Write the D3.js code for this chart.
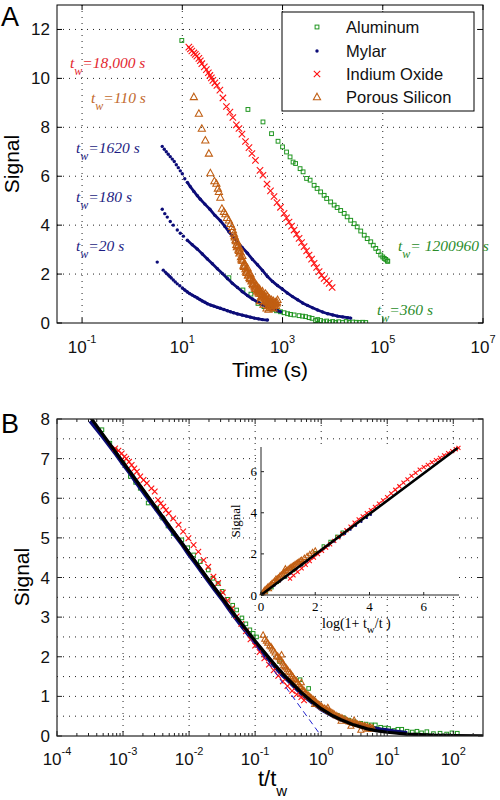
<!DOCTYPE html>
<html><head><meta charset="utf-8">
<script src="https://cdn.jsdelivr.net/npm/d3@7"></script>
<style>body{margin:0;background:#fff}svg{display:block}</style>
</head><body><svg id="c" width="500" height="800"></svg>
<script>
// ---------------- DATA : panel A (time in s, signal) ----------------
const mylar1620T = [3.98,4.37,4.79,5.25,5.75,6.31,6.92,7.59,8.32,9.12,10,11.2,12.6,14.5,17.0,20.0,22.9,28.2,35.5,44.7,57.5,70.8,85.1,105,126,158,200,251,316,398,501,631,794,1000,1259,1585,1995,2512,3162,3981,5012,6310,7943,10000,12589,15849,19953,22909];
const mylar1620S = [7.22,7.1,7.0,6.9,6.8,6.7,6.6,6.47,6.35,6.22,6.1,5.9,5.75,5.57,5.38,5.2,5.06,4.86,4.65,4.4,4.18,3.95,3.73,3.5,3.31,3.08,2.85,2.6,2.38,2.15,1.9,1.7,1.53,1.38,1.22,1.08,0.95,0.82,0.72,0.62,0.53,0.45,0.38,0.33,0.28,0.25,0.22,0.2];
const mylar180T = [3.98,4.47,5.01,5.75,6.61,7.94,9.12,10.5,12.6,15.8,20,25.1,31.6,39.8,50.1,63.1,79.4,100,126,158,200,251,316,398,501,631,794,912];
const mylar180S = [4.65,4.47,4.33,4.15,4.0,3.8,3.67,3.55,3.38,3.2,3.02,2.82,2.62,2.42,2.22,2.02,1.82,1.62,1.45,1.28,1.12,0.98,0.86,0.75,0.66,0.58,0.5,0.46];
const mylar20T = [3.16,4.17,4.57,4.9,5.25,5.62,6.03,6.61,7.24,7.94,8.91,10,11.2,12.6,14.1,15.8,17.8,20,22.4,25.1,28.2,31.6,37.2,42.7,50.1,57.5,67.6,79.4,91.2,105,126,158,191,229,275,331,398,501];
const mylar20S = [2.49,2.16,2.08,2.02,1.96,1.9,1.84,1.76,1.68,1.6,1.52,1.43,1.35,1.27,1.2,1.14,1.08,1.02,0.96,0.9,0.85,0.79,0.73,0.69,0.64,0.6,0.55,0.5,0.46,0.42,0.37,0.32,0.28,0.24,0.2,0.17,0.14,0.12];
const indiumT = [13.5,14.5,15.5,17.0,18.2,19.5,21.4,22.9,24.5,27.5,30.2,33.1,35.5,38.0,40.7,44.7,49.0,56.2,64.6,75.9,89.1,102,120,135,155,182,214,245,288,355,407,490,575,676,776,912,1072,1202,1349,1514,1698,1905,2138,2399,2692,3020,3388,3802,4266,4786,5370,6026,6761,7586,8511,9772];
const indiumS = [11.28,11.2,11.12,11.04,10.98,10.91,10.82,10.72,10.6,10.47,10.36,10.23,10.12,10.02,9.92,9.82,9.71,9.52,9.2,8.85,8.62,8.4,8.1,7.95,7.72,7.42,7.17,6.93,6.65,6.24,6.04,5.68,5.4,5.17,4.92,4.73,4.48,4.3,4.13,3.96,3.8,3.63,3.46,3.29,3.12,2.95,2.78,2.61,2.44,2.27,2.1,1.95,1.82,1.72,1.62,1.45];
const aluminumHighT = [9.77,204,407,603,813,1000,1202,1413,1622,1820,2239,2570,3020,3548,4266,4898,5754,6761,7586,9120,10715,12303,14454,16982,19498,22909,26915,30903,36308,42658,48978,57544,64565,72444,81283,91201,100000,107152,114815,123027,125893];
const aluminumHighS = [11.55,8.73,8.22,7.74,7.43,7.2,6.99,6.79,6.58,6.52,6.31,6.18,5.91,5.84,5.63,5.5,5.36,5.22,5.09,4.95,4.82,4.72,4.6,4.48,4.34,4.2,4.06,3.93,3.76,3.59,3.45,3.32,3.18,3.05,2.92,2.78,2.7,2.64,2.6,2.54,2.52];
const aluminumLowT = [85,162,234,324,427,525,617,759,912,1072,1259,1445,1698,2138,2512,2884,3388,3890,4571,5012,5754,6607,7586,8710,10000,11482,13183,15849,18621,21380,25119,29512,33884,39811,45709];
const aluminumLowS = [1.85,1.35,1.18,0.8,0.67,0.6,0.56,0.5,0.46,0.42,0.38,0.35,0.33,0.3,0.28,0.26,0.22,0.19,0.1,0.14,0.1,0.05,0.08,0.03,0.06,0.02,0.05,0.02,0.06,0.02,0.04,0.03,0.02,0.03,0.02];
const porousT = [17.0,21.4,24.5,28.8,33.9,36.3,43.7,47.9,51.3,53.7,57.5,61.7,67.6,72.4,77.6,85.1,91.2,97.7,102,107,112,115,120,126,132,138,141,148,155,158,166,174,182,191,200,209,219,229,240,251,263,275,288,302,316,331,347,363,380,398,417,437,457,479,501,525,550,575,603,631,661,692,724,759,794,479,417,355,525,
  110,118,123,129,135,145,151,162,170,178,186,195,204,214,224,234,245,257,269,282,295,309,324,339,355,372,389,407,427,447,468,490,513,537,562,589,617,646,676,708,741,776,660,600,560];
const porousS = [9.24,8.56,7.95,7.47,6.93,6.13,5.8,5.7,5.5,5.36,5.13,4.68,4.55,4.45,4.3,4.2,4.05,3.93,3.8,3.66,3.5,3.39,3.2,3.3,3.0,2.85,3.05,2.7,2.55,2.75,2.35,2.45,2.2,2.05,2.25,1.95,1.85,2.0,1.7,1.6,1.75,1.5,1.4,1.55,1.35,1.25,1.4,1.2,1.1,1.3,1.15,1.0,1.2,0.95,1.1,0.85,1.0,0.8,0.95,0.75,0.9,0.7,0.85,0.8,0.95,0.6,0.75,0.9,0.55,
  3.55,3.35,3.1,3.15,2.95,2.9,2.6,2.55,2.3,2.35,2.1,2.15,1.95,2.05,1.8,1.85,1.75,1.55,1.65,1.45,1.5,1.3,1.45,1.2,1.3,1.05,1.2,1.05,1.1,0.9,1.05,0.85,0.95,0.7,0.9,0.7,0.85,0.8,0.75,0.8,0.7,0.85,0.6,0.62,0.65];

const aXDomain = [0.0316, 1e7];
const aYDomain = [0, 13];
const aXTicks = [0.1, 10, 1000, 1e5, 1e7];
const aXTickExp = ["-1", "1", "3", "5", "7"];
const aYTicks = [0, 2, 4, 6, 8, 10, 12];

const legendNames = ["Aluminum", "Mylar", "Indium Oxide", "Porous Silicon"];
const annotations = [
  {text: "=18,000 s", color: "#e3262e"},
  {text: "=110 s", color: "#c2692c"},
  {text: "=1620 s", color: "#1c1c82"},
  {text: "=180 s", color: "#1c1c82"},
  {text: "=20 s", color: "#1c1c82"},
  {text: "= 1200960 s", color: "#2a8c2a"},
  {text: "=360 s", color: "#2a8c2a"}
];

// ---------------- DATA : panel B (t/tw, signal) ----------------
const bModelX = [3.16e-4,5e-4,1e-3,2e-3,5e-3,0.01,0.02,0.05,0.1,0.2,0.3,0.5,0.7,1,1.5,2,3,5,7,10,20,50,100,282];
const bModelS = [8.06,7.6,6.91,6.22,5.3,4.62,3.93,3.04,2.4,1.79,1.47,1.1,0.89,0.69,0.51,0.41,0.29,0.18,0.13,0.095,0.049,0.02,0.01,0.0035];
const bFitX = [1e-4, 1];
const bFitS = [9.21, 0];
const bIndiumX = [7.59e-4,8.51e-4,9.55e-4,1.05e-3,1.12e-3,1.23e-3,1.35e-3,1.48e-3,1.62e-3,1.82e-3,2.04e-3,2.29e-3,2.69e-3,3.02e-3,3.39e-3,3.72e-3,4.07e-3,4.47e-3,4.9e-3,5.75e-3,6.92e-3,8.13e-3,9.77e-3,0.0117,0.0138,0.0166,0.0195,0.0234,0.0275,0.0324,0.038,0.0447,0.0525,0.0617,0.0724,0.0851,0.1,0.117,0.138,0.162,0.191,0.224,0.263,0.309,0.363,0.427,0.501,0.55];
const bIndiumS = [7.26,7.2,7.13,7.05,7.0,6.92,6.84,6.75,6.67,6.55,6.46,6.38,6.25,6.17,5.96,5.87,5.79,5.7,5.62,5.49,5.33,5.16,4.99,4.82,4.65,4.44,4.27,4.02,3.86,3.62,3.42,3.22,3.02,2.83,2.64,2.44,2.28,2.12,1.96,1.8,1.66,1.52,1.38,1.26,1.14,1.05,0.98,0.9];
const bMylarX = [3.2e-4,4e-4,5e-4,6.3e-4,8e-4,1e-3,1.3e-3,1.6e-3,2e-3,2.5e-3,3.2e-3,4e-3,5e-3,6.3e-3,8e-3,0.01,0.013,0.016,0.02,0.025,0.032,0.04,0.05,0.063,0.08,0.1,0.13,0.16,0.2,0.25,0.32,0.4,0.5,0.63,0.8,1.0,1.3,1.6,2,2.5,3.2,4,5,6.3,8,10,13,16,20];
const bMylarS = [7.95,7.75,7.55,7.33,7.1,6.87,6.62,6.4,6.18,5.96,5.72,5.5,5.27,5.05,4.82,4.58,4.33,4.12,3.9,3.68,3.45,3.22,3.0,2.78,2.56,2.36,2.13,1.95,1.76,1.57,1.4,1.24,1.08,0.94,0.8,0.68,0.57,0.49,0.42,0.36,0.3,0.26,0.22,0.19,0.16,0.14,0.11,0.09,0.07];
const bAluminumX = [4.79e-4,6.31e-4,7.59e-4,1e-3,1.29e-3,1.55e-3,1.82e-3,2.4e-3,3.24e-3,3.98e-3,4.79e-3,5.75e-3,7.76e-3,9.55e-3,0.0117,0.0148,0.0195,0.0229,0.0275,0.0316,0.0389,0.0457,0.0525,0.0631,0.0724,0.0832,0.0933,0.105,0.234,0.479,0.646,0.871,1.15,1.41,1.74,2.14,2.63,3.16,3.98,4.79,5.75,6.61,7.94,9.12,10.5,12.6,14.5,16.6,20,24,28.2,33.1,39.8,50.1,63.1,79.4,95.5,115];
const bAluminumS = [7.73,7.39,7.22,6.9,6.55,6.4,6.25,5.88,5.75,5.5,5.3,5.11,4.95,4.75,4.57,4.4,4.19,3.98,3.85,3.65,3.45,3.3,3.18,2.98,2.83,2.68,2.59,2.5,1.88,1.42,1.2,0.82,0.66,0.58,0.52,0.46,0.4,0.36,0.32,0.3,0.28,0.28,0.22,0.2,0.19,0.14,0.17,0.17,0.12,0.1,0.12,0.08,0.11,0.06,0.07,0.05,0.08,0.07];
const bPorousX = [0.132,0.148,0.166,0.182,0.2,0.219,0.24,0.263,0.282,0.309,0.339,0.372,0.398,0.437,0.479,0.525,0.575,0.631,0.692,0.759,0.832,0.912,1,1.12,1.26,1.41,1.58,1.78,2.0,2.24,2.51,2.82,3.16,3.55,3.98,4.47,5.01,5.62,6.03,0.251,0.355,0.501,0.794,1.26,2.0,3.16,3.98,5.01,2.82,
  0.14,0.155,0.175,0.19,0.21,0.23,0.25,0.27,0.295,0.32,0.355,0.385,0.42,0.46,0.5,0.55,0.6,0.66,0.72,0.8,0.87,0.95,1.05,1.18,1.33,1.5,1.68,1.9,2.1,2.4,2.65,3.0,3.35,3.75,4.2,4.7,5.3,5.8];
const bPorousS = [2.55,2.4,2.28,2.2,2.1,2.02,1.93,1.85,1.75,1.68,1.6,1.5,1.43,1.35,1.25,1.18,1.1,1.04,0.98,0.92,0.86,0.8,0.76,0.7,0.65,0.6,0.55,0.5,0.46,0.42,0.38,0.35,0.32,0.3,0.28,0.26,0.24,0.22,0.2,2.05,1.45,1.35,0.8,0.72,0.38,0.4,0.15,0.18,0.25,
  2.45,2.35,2.25,2.15,2.0,1.98,1.9,1.78,1.72,1.62,1.55,1.45,1.4,1.3,1.22,1.15,1.05,1.0,0.95,0.9,0.82,0.78,0.72,0.68,0.62,0.58,0.52,0.48,0.45,0.4,0.36,0.33,0.31,0.29,0.26,0.24,0.2,0.18];
const bXDomain = [1e-4, 282];
const bYDomain = [0, 8];
const bXExp = ["-4","-3","-2","-1","0","1","2"];
const bYTicks = [0,1,2,3,4,5,6,7,8];

// ---------------- DATA : inset (log(1+tw/t), signal) ----------------
const iModelU = [0, 7.25];
const iModelS = [0, 7.15];
const iIndiumU = [1.07,1.2,1.35,1.5,1.65,1.8,1.95,2.1,2.25,2.4,2.55,2.7,2.85,3.0,3.15,3.3,3.45,3.6,3.75,3.9,4.05,4.2,4.35,4.5,4.65,4.8,4.95,5.1,5.25,5.4,5.55,5.7,5.85,6.0,6.15,6.3,6.45,6.6,6.75,6.9,7.05,7.18,7.28];
const iIndiumS = [0.8,0.95,1.12,1.3,1.47,1.65,1.82,1.99,2.15,2.3,2.46,2.63,2.8,2.98,3.15,3.33,3.52,3.68,3.83,3.98,4.13,4.29,4.45,4.6,4.76,4.94,5.12,5.29,5.47,5.63,5.79,5.94,6.1,6.22,6.33,6.45,6.56,6.67,6.79,6.9,7.0,7.09,7.16];
const iPorousU = [0.05,0.1,0.15,0.2,0.25,0.3,0.35,0.4,0.45,0.5,0.6,0.7,0.8,0.9,1.0,1.1,1.2,1.3,1.4,1.5,1.6,1.7,1.8,1.9,2.0,0.3,0.6,0.9,1.2,0.15,1.55,0.55,0.65,0.75,0.85,0.95,1.05,1.15,1.25,1.35,1.45];
const iPorousS = [0.1,0.2,0.28,0.33,0.4,0.45,0.52,0.58,0.64,0.7,0.82,0.95,1.06,1.16,1.27,1.36,1.45,1.55,1.63,1.72,1.82,1.9,2.0,2.1,2.17,0.3,0.7,1.3,1.3,0.15,1.62,0.8,0.86,1.0,1.12,1.2,1.32,1.42,1.5,1.58,1.68];
const iMylarU = [0.1,0.3,0.5,0.7,0.9,1.1,1.3,1.5,1.7,1.9,2.1,2.3,2.5,2.7,2.9,3.1,3.3,3.5,3.7,3.9,4.05];
const iMylarS = [0.08,0.27,0.46,0.66,0.86,1.05,1.24,1.44,1.63,1.83,2.02,2.22,2.41,2.6,2.8,2.98,3.18,3.37,3.56,3.75,3.9];
const iAluminumU = [0.05,0.2,0.4,0.6,0.9,1.2,1.5,2.0,2.3,2.55,2.8,3.0];
const iAluminumS = [0.07,0.18,0.36,0.62,0.88,1.2,1.48,2.05,2.38,2.6,2.85,3.05];
const iXDomain = [0, 7.3];
const iYDomain = [0, 7.2];
const iTicks = [0, 2, 4, 6];

// ---------------- RENDER ----------------
const FONT = "'Liberation Sans', Arial, Helvetica, sans-serif";
const SERIF = "'Liberation Serif', 'Times New Roman', serif";
const C = {al: "#1f951f", my: "#0c0c78", in: "#ff1010", ps: "#c05e12"};
const svg = d3.select("#c");
const zip = (a, b) => a.map((v, i) => [v, b[i]]);

function markers(g, data, kind, xs, ys, s) {
  const sel = g.append("g");
  data.forEach(([a, b]) => {
    const x = xs(a), y = ys(b);
    if (kind === "sq") sel.append("rect").attr("x", x - s/2).attr("y", y - s/2).attr("width", s).attr("height", s)
      .attr("fill", "none").attr("stroke", C.al).attr("stroke-width", 1);
    else if (kind === "dot") sel.append("circle").attr("cx", x).attr("cy", y).attr("r", s).attr("fill", C.my);
    else if (kind === "x") sel.append("path").attr("d", `M${x-s},${y-s}L${x+s},${y+s}M${x-s},${y+s}L${x+s},${y-s}`)
      .attr("stroke", C.in).attr("stroke-width", 1.1).attr("fill", "none");
    else if (kind === "tri") sel.append("path").attr("d", `M${x},${y-s}L${x+s*0.95},${y+s*0.7}L${x-s*0.95},${y+s*0.7}Z`)
      .attr("stroke", C.ps).attr("stroke-width", 1.05).attr("fill", "none");
  });
}
function lineOf(g, data, xs, ys, color, w, dash) {
  const p = g.append("path").datum(data).attr("fill", "none").attr("stroke", color).attr("stroke-width", w)
    .attr("stroke-linejoin", "round").attr("d", d3.line().x(d => xs(d[0])).y(d => ys(d[1])));
  if (dash) p.attr("stroke-dasharray", dash);
  return p;
}
function powLabel(g, x, y, exp, size, esize, up) {
  const t = g.append("text").attr("x", x).attr("y", y).attr("text-anchor", "middle")
    .attr("font-family", FONT).attr("font-size", size).attr("fill", "#111");
  t.append("tspan").text("10");
  t.append("tspan").attr("dy", -up).attr("font-size", esize).text(exp);
}

// ===== Panel A =====
const A = {l: 57, r: 483, t: 5, b: 323};
const xA = d3.scaleLog().domain(aXDomain).range([A.l, A.r]);
const yA = d3.scaleLinear().domain(aYDomain).range([A.b, A.t]);
const gA = svg.append("g");
svg.append("clipPath").attr("id", "clipA").append("rect").attr("x", A.l).attr("y", A.t).attr("width", A.r - A.l).attr("height", A.b - A.t);

aXTicks.slice(0, -1).forEach(v => gA.append("line").attr("x1", xA(v)).attr("x2", xA(v)).attr("y1", A.t).attr("y2", A.b)
  .attr("stroke", "#222").attr("stroke-width", 1).attr("stroke-dasharray", "1,5"));
aYTicks.slice(1).forEach(v => gA.append("line").attr("x1", A.l).attr("x2", A.r).attr("y1", yA(v)).attr("y2", yA(v))
  .attr("stroke", "#222").attr("stroke-width", 1).attr("stroke-dasharray", "1,5"));

const dA = gA.append("g").attr("clip-path", "url(#clipA)");
markers(dA, zip(aluminumHighT, aluminumHighS), "sq", xA, yA, 3.8);
markers(dA, zip(aluminumLowT, aluminumLowS), "sq", xA, yA, 3.8);
[[mylar1620T, mylar1620S], [mylar180T, mylar180S], [mylar20T, mylar20S]].forEach(([T, S]) => {
  const d = zip(T, S);
  lineOf(dA, d.filter(p => p[0] >= T[0] * 3), xA, yA, C.my, 2.8);
  markers(dA, d, "dot", xA, yA, 1.7);
});
markers(dA, zip(indiumT, indiumS), "x", xA, yA, 3.2);
markers(dA, zip(porousT, porousS), "tri", xA, yA, 3.8);

gA.append("rect").attr("x", A.l).attr("y", A.t).attr("width", A.r - A.l).attr("height", A.b - A.t)
  .attr("fill", "none").attr("stroke", "#000").attr("stroke-width", 1);
aYTicks.forEach(v => {
  gA.append("line").attr("x1", A.l).attr("x2", A.l + 5).attr("y1", yA(v)).attr("y2", yA(v)).attr("stroke", "#000");
  gA.append("line").attr("x1", A.r).attr("x2", A.r - 5).attr("y1", yA(v)).attr("y2", yA(v)).attr("stroke", "#000");
  gA.append("text").attr("x", 50).attr("y", yA(v) + 6).attr("text-anchor", "end").attr("font-family", FONT)
    .attr("font-size", 17).attr("fill", "#111").text(v);
});
aXTicks.forEach((v, i) => {
  gA.append("line").attr("x1", xA(v)).attr("x2", xA(v)).attr("y1", A.b).attr("y2", A.b - 5).attr("stroke", "#000");
  gA.append("line").attr("x1", xA(v)).attr("x2", xA(v)).attr("y1", A.t).attr("y2", A.t + 5).attr("stroke", "#000");
  powLabel(gA, xA(v), 353, aXTickExp[i], 17, 11, 10);
});
gA.append("text").attr("x", 270).attr("y", 377).attr("text-anchor", "middle").attr("font-family", FONT).attr("font-size", 21).text("Time (s)");
gA.append("text").attr("transform", "translate(19,164) rotate(-90)").attr("text-anchor", "middle").attr("font-family", FONT).attr("font-size", 21).text("Signal");
svg.append("text").attr("x", 1).attr("y", 26).attr("font-family", FONT).attr("font-size", 27).text("A");

const annPos = [[70, 68], [91, 103], [76, 153], [76, 202], [76, 251], [398, 251], [377, 315]];
annotations.forEach((a, i) => {
  const t = gA.append("text").attr("x", annPos[i][0]).attr("y", annPos[i][1]).attr("font-family", SERIF)
    .attr("font-style", "italic").attr("font-size", 15.5).attr("fill", a.color);
  t.append("tspan").text("t");
  t.append("tspan").attr("dy", 7).attr("font-size", 12).text("w");
  t.append("tspan").attr("dy", -7).text(a.text);
});

const lg = gA.append("g");
lg.append("rect").attr("x", 282).attr("y", 12).attr("width", 192).attr("height", 99).attr("fill", "#fff").attr("stroke", "#000").attr("stroke-width", 1);
const legY = [27, 51, 74, 97];
const legKinds = ["sq", "dot", "x", "tri"];
const legSize = [3.8, 1.7, 3.2, 3.8];
legendNames.forEach((n, i) => {
  const idY = d3.scaleLinear().domain([0, 1]).range([legY[i], legY[i] + 1]);
  const idX = d3.scaleLinear().domain([0, 1]).range([317, 318]);
  markers(lg, [[0, 0]], legKinds[i], idX, idY, legSize[i]);
  lg.append("text").attr("x", 346).attr("y", legY[i] + 6).attr("font-family", FONT).attr("font-size", 16.5).attr("fill", "#111").text(n);
});

// ===== Panel B =====
const B = {l: 57, r: 483, t: 419, b: 736};
const xB = d3.scaleLog().domain(bXDomain).range([B.l, B.r]);
const yB = d3.scaleLinear().domain(bYDomain).range([B.b, B.t]);
const gB = svg.append("g");
svg.append("clipPath").attr("id", "clipB").append("rect").attr("x", B.l).attr("y", B.t).attr("width", B.r - B.l).attr("height", B.b - B.t);
const decB = d3.range(-4, 3).map(e => Math.pow(10, e));
decB.slice(1).forEach(v => gB.append("line").attr("x1", xB(v)).attr("x2", xB(v)).attr("y1", B.t).attr("y2", B.b)
  .attr("stroke", "#222").attr("stroke-dasharray", "1,5"));
d3.range(0.5, 8, 0.5).forEach(v => gB.append("line").attr("x1", B.l).attr("x2", B.r).attr("y1", yB(v)).attr("y2", yB(v))
  .attr("stroke", "#222").attr("stroke-dasharray", "1,5"));

const dB = gB.append("g").attr("clip-path", "url(#clipB)");
markers(dB, zip(bAluminumX, bAluminumS), "sq", xB, yB, 3.6);
lineOf(dB, zip(bMylarX, bMylarS), xB, yB, C.my, 4.4);
markers(dB, zip(bIndiumX, bIndiumS), "x", xB, yB, 2.8);
markers(dB, zip(bPorousX, bPorousS), "tri", xB, yB, 3.2);
lineOf(dB, zip(bFitX, bFitS), xB, yB, "#2020d0", 1, "6,4");
lineOf(dB, zip(bModelX, bModelS), xB, yB, "#000", 3.2);

gB.append("rect").attr("x", B.l).attr("y", B.t).attr("width", B.r - B.l).attr("height", B.b - B.t)
  .attr("fill", "none").attr("stroke", "#222").attr("stroke-width", 1.2);
bYTicks.forEach(v => {
  gB.append("line").attr("x1", B.l).attr("x2", B.l + 5).attr("y1", yB(v)).attr("y2", yB(v)).attr("stroke", "#222");
  gB.append("line").attr("x1", B.r).attr("x2", B.r - 5).attr("y1", yB(v)).attr("y2", yB(v)).attr("stroke", "#222");
  gB.append("text").attr("x", 50).attr("y", yB(v) + 6).attr("text-anchor", "end").attr("font-family", FONT)
    .attr("font-size", 17).attr("fill", "#111").text(v);
});
decB.forEach((v, i) => {
  gB.append("line").attr("x1", xB(v)).attr("x2", xB(v)).attr("y1", B.b).attr("y2", B.b - 5).attr("stroke", "#222");
  gB.append("line").attr("x1", xB(v)).attr("x2", xB(v)).attr("y1", B.t).attr("y2", B.t + 5).attr("stroke", "#222");
  powLabel(gB, xB(v), 765, bXExp[i], 17, 11, 10);
  d3.range(2, 10).forEach(m => {
    const mv = m * v;
    if (mv > bXDomain[1]) return;
    gB.append("line").attr("x1", xB(mv)).attr("x2", xB(mv)).attr("y1", B.b).attr("y2", B.b - 3).attr("stroke", "#222");
    gB.append("line").attr("x1", xB(mv)).attr("x2", xB(mv)).attr("y1", B.t).attr("y2", B.t + 3).attr("stroke", "#222");
  });
});
const xl = gB.append("text").attr("x", 258).attr("y", 786).attr("font-family", FONT).attr("font-size", 22);
xl.append("tspan").text("t/t");
xl.append("tspan").attr("dy", 10).attr("font-size", 15).text("w");
gB.append("text").attr("transform", "translate(29,577) rotate(-90)").attr("text-anchor", "middle").attr("font-family", FONT).attr("font-size", 21).text("Signal");
svg.append("text").attr("x", 1).attr("y", 433).attr("font-family", FONT).attr("font-size", 27).text("B");

// ===== Inset =====
const I = {l: 261, r: 459, t: 447, b: 595};
const xI = d3.scaleLinear().domain(iXDomain).range([I.l, I.r]);
const yI = d3.scaleLinear().domain(iYDomain).range([I.b, I.t]);
const gI = svg.append("g");
gI.append("rect").attr("x", I.l).attr("y", I.t).attr("width", I.r - I.l).attr("height", I.b - I.t).attr("fill", "#fff");
markers(gI, zip(iAluminumU, iAluminumS), "sq", xI, yI, 2.6);
markers(gI, zip(iMylarU, iMylarS), "dot", xI, yI, 1.2);
markers(gI, zip(iPorousU, iPorousS), "tri", xI, yI, 2.6);
markers(gI, zip(iIndiumU, iIndiumS), "x", xI, yI, 2);
lineOf(gI, zip(iModelU, iModelS), xI, yI, "#000", 2.6);
gI.append("path").attr("d", `M${I.l},${I.t}V${I.b}H${I.r}`).attr("fill", "none").attr("stroke", "#222").attr("stroke-width", 1);
iTicks.forEach(v => {
  gI.append("line").attr("x1", xI(v)).attr("x2", xI(v)).attr("y1", I.b).attr("y2", I.b - 3).attr("stroke", "#222");
  gI.append("line").attr("x1", I.l).attr("x2", I.l + 3).attr("y1", yI(v)).attr("y2", yI(v)).attr("stroke", "#222");
  gI.append("text").attr("x", xI(v)).attr("y", 611).attr("text-anchor", "middle").attr("font-family", SERIF).attr("font-size", 13).text(v);
  gI.append("text").attr("x", 257).attr("y", yI(v) + 4.5).attr("text-anchor", "end").attr("font-family", SERIF).attr("font-size", 13).text(v);
});
gI.append("text").attr("transform", "translate(240,521) rotate(-90)").attr("text-anchor", "middle").attr("font-family", SERIF).attr("font-size", 13).text("Signal");
const il = gI.append("text").attr("x", 322).attr("y", 628).attr("font-family", SERIF).attr("font-size", 14);
il.append("tspan").text("log(1+ t");
il.append("tspan").attr("dy", 5).attr("font-size", 11).text("w");
il.append("tspan").attr("dy", -5).text("/t )");
</script></body></html>
